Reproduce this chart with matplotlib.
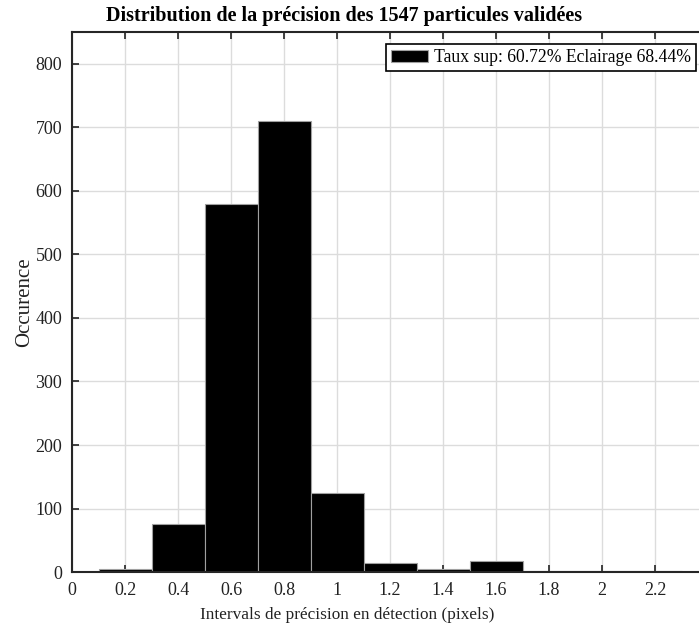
import matplotlib.pyplot as plt
import numpy as np

plt.rcParams['font.family'] = ['Liberation Serif', 'DejaVu Serif']

centres = [0.2, 0.4, 0.6, 0.8, 1.0, 1.2, 1.4, 1.6, 1.8, 2.0, 2.2]
counts = [5, 75, 580, 710, 125, 15, 5, 18, 1, 1, 1]
label = 'Taux sup: 60.72% Eclairage 68.44%'

fig = plt.figure(figsize=(6.99, 6.28), dpi=100)
ax = fig.add_axes([0.103, 0.089, 0.910, 0.860])

ax.bar(centres, counts, width=0.2, color='black', edgecolor='#a0a0a0',
       linewidth=0.8, label=label, zorder=2)

ax.set_xlim(0, 2.4)
ax.set_ylim(0, 850)
ax.set_xticks(np.arange(0, 2.21, 0.2))
ax.set_xticklabels(['0', '0.2', '0.4', '0.6', '0.8', '1', '1.2', '1.4', '1.6', '1.8', '2', '2.2'])
ax.set_yticks(range(0, 801, 100))
ax.grid(True, color='#dcdcdc', linewidth=1, zorder=0)
ax.set_axisbelow(True)
ax.tick_params(direction='in', top=True, right=False, labelsize=13,
               length=5, width=1.2, colors='#222222', labelcolor='#222222', pad=7)
for s in ['left', 'bottom', 'top']:
    ax.spines[s].set_linewidth(1.5)
    ax.spines[s].set_color('#262626')
ax.spines['right'].set_visible(False)

ax.set_xlabel('Intervals de précision en détection (pixels)', fontsize=12.4,
              color='#222222', labelpad=6, x=0.432)
ax.set_ylabel('Occurence', fontsize=15, color='#222222', labelpad=1)
ax.set_title('Distribution de la précision des 1547 particules validées',
             fontsize=14.5, fontweight='bold', pad=8, x=0.428)

leg = ax.legend(loc='upper right', bbox_to_anchor=(0.981, 0.978), fontsize=12.7,
                fancybox=False, edgecolor='black', framealpha=1,
                handlelength=2.1, handleheight=0.7, borderpad=0.3,
                handletextpad=0.3, borderaxespad=0)
leg.get_frame().set_linewidth(1.2)

fig.savefig('out.png', dpi=100)
